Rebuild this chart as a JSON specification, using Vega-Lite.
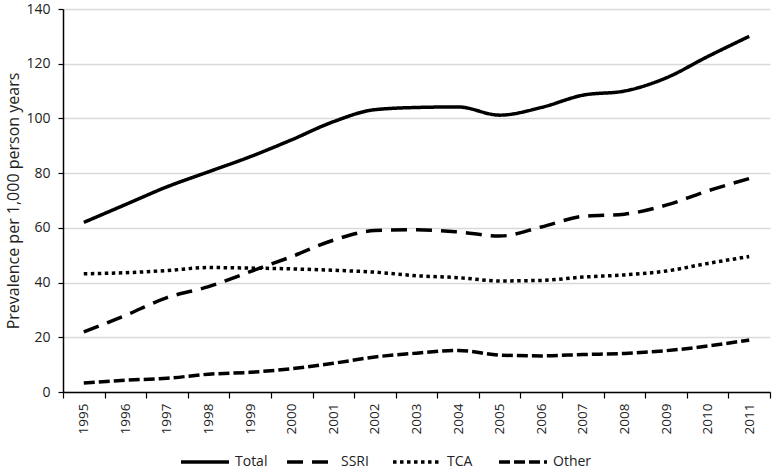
{
  "$schema": "https://vega.github.io/schema/vega-lite/v6.json",
  "width": 707,
  "height": 383,
  "autosize": {"type": "none"},
  "padding": {"left": 63, "right": 3, "top": 9, "bottom": 79},
  "background": "white",
  "config": {
    "view": {"stroke": null},
    "font": "Open Sans",
    "axis": {"labelFont": "Open Sans", "titleFont": "Open Sans", "labelColor": "#222", "titleColor": "#222"},
    "legend": {"labelFont": "Open Sans"}
  },
  "data": {
    "values": [
      {"year": "1995", "series": "Total", "value": 62.0},
      {"year": "1996", "series": "Total", "value": 68.5},
      {"year": "1997", "series": "Total", "value": 75.0},
      {"year": "1998", "series": "Total", "value": 80.5},
      {"year": "1999", "series": "Total", "value": 86.0},
      {"year": "2000", "series": "Total", "value": 92.2},
      {"year": "2001", "series": "Total", "value": 98.8},
      {"year": "2002", "series": "Total", "value": 103.2},
      {"year": "2003", "series": "Total", "value": 104.0},
      {"year": "2004", "series": "Total", "value": 104.2},
      {"year": "2005", "series": "Total", "value": 101.2},
      {"year": "2006", "series": "Total", "value": 104.0},
      {"year": "2007", "series": "Total", "value": 108.5},
      {"year": "2008", "series": "Total", "value": 110.0},
      {"year": "2009", "series": "Total", "value": 114.8},
      {"year": "2010", "series": "Total", "value": 122.6},
      {"year": "2011", "series": "Total", "value": 130.0},
      {"year": "1995", "series": "SSRI", "value": 22.0},
      {"year": "1996", "series": "SSRI", "value": 28.0},
      {"year": "1997", "series": "SSRI", "value": 34.5},
      {"year": "1998", "series": "SSRI", "value": 38.5},
      {"year": "1999", "series": "SSRI", "value": 44.0},
      {"year": "2000", "series": "SSRI", "value": 49.5},
      {"year": "2001", "series": "SSRI", "value": 55.5},
      {"year": "2002", "series": "SSRI", "value": 59.0},
      {"year": "2003", "series": "SSRI", "value": 59.3},
      {"year": "2004", "series": "SSRI", "value": 58.5},
      {"year": "2005", "series": "SSRI", "value": 57.0},
      {"year": "2006", "series": "SSRI", "value": 60.3},
      {"year": "2007", "series": "SSRI", "value": 64.2},
      {"year": "2008", "series": "SSRI", "value": 65.0},
      {"year": "2009", "series": "SSRI", "value": 68.3},
      {"year": "2010", "series": "SSRI", "value": 73.5},
      {"year": "2011", "series": "SSRI", "value": 78.0},
      {"year": "1995", "series": "TCA", "value": 43.2},
      {"year": "1996", "series": "TCA", "value": 43.6},
      {"year": "1997", "series": "TCA", "value": 44.4},
      {"year": "1998", "series": "TCA", "value": 45.5},
      {"year": "1999", "series": "TCA", "value": 45.3},
      {"year": "2000", "series": "TCA", "value": 45.0},
      {"year": "2001", "series": "TCA", "value": 44.5},
      {"year": "2002", "series": "TCA", "value": 43.8},
      {"year": "2003", "series": "TCA", "value": 42.5},
      {"year": "2004", "series": "TCA", "value": 41.8},
      {"year": "2005", "series": "TCA", "value": 40.6},
      {"year": "2006", "series": "TCA", "value": 40.8},
      {"year": "2007", "series": "TCA", "value": 42.0},
      {"year": "2008", "series": "TCA", "value": 42.8},
      {"year": "2009", "series": "TCA", "value": 44.2},
      {"year": "2010", "series": "TCA", "value": 47.0},
      {"year": "2011", "series": "TCA", "value": 49.5},
      {"year": "1995", "series": "Other", "value": 3.3},
      {"year": "1996", "series": "Other", "value": 4.3},
      {"year": "1997", "series": "Other", "value": 5.0},
      {"year": "1998", "series": "Other", "value": 6.5},
      {"year": "1999", "series": "Other", "value": 7.2},
      {"year": "2000", "series": "Other", "value": 8.5},
      {"year": "2001", "series": "Other", "value": 10.5},
      {"year": "2002", "series": "Other", "value": 12.8},
      {"year": "2003", "series": "Other", "value": 14.2},
      {"year": "2004", "series": "Other", "value": 15.2},
      {"year": "2005", "series": "Other", "value": 13.5},
      {"year": "2006", "series": "Other", "value": 13.2},
      {"year": "2007", "series": "Other", "value": 13.7},
      {"year": "2008", "series": "Other", "value": 14.1},
      {"year": "2009", "series": "Other", "value": 15.1},
      {"year": "2010", "series": "Other", "value": 16.8},
      {"year": "2011", "series": "Other", "value": 19.0}
    ]
  },
  "mark": {"type": "line", "color": "black", "strokeWidth": 3.5, "strokeCap": "butt", "interpolate": "monotone"},
  "encoding": {
    "x": {
      "field": "year", "type": "ordinal", "title": null,
      "axis": {
        "labelAngle": -90, "labelFontSize": 13.5, "labelPadding": 5,
        "tickBand": "extent", "ticks": true, "tickSize": 6, "tickColor": "black",
        "domainColor": "black", "domainWidth": 1.5, "tickWidth": 1.2, "grid": false
      }
    },
    "y": {
      "field": "value", "type": "quantitative",
      "scale": {"domain": [0, 140]},
      "title": "Prevalence per 1,000 person years",
      "axis": {
        "values": [0, 20, 40, 60, 80, 100, 120, 140],
        "labelFontSize": 14, "titleFontSize": 16, "titleFontWeight": "normal",
        "titlePadding": 4, "tickSize": 5, "tickColor": "black", "tickWidth": 1.2,
        "domainColor": "black", "domainWidth": 1.5,
        "gridColor": "#d9d9d9", "gridWidth": 1.5, "labelPadding": 8
      }
    },
    "detail": {"field": "series"},
    "strokeDash": {
      "field": "series", "type": "nominal",
      "scale": {
        "domain": ["Total", "SSRI", "TCA", "Other"],
        "range": [[1, 0], [16, 9], [3.5, 3.5], [11, 4]]
      },
      "legend": {
        "title": null, "orient": "none", "legendX": 116, "legendY": 427,
        "direction": "horizontal", "columns": 4, "gridAlign": "all",
        "symbolType": "stroke", "symbolSize": 2300, "symbolStrokeWidth": 3.5,
        "symbolStrokeColor": "black", "labelFontSize": 14, "labelColor": "#222",
        "labelOffset": 4, "columnPadding": 6, "padding": 0
      }
    }
  }
}
